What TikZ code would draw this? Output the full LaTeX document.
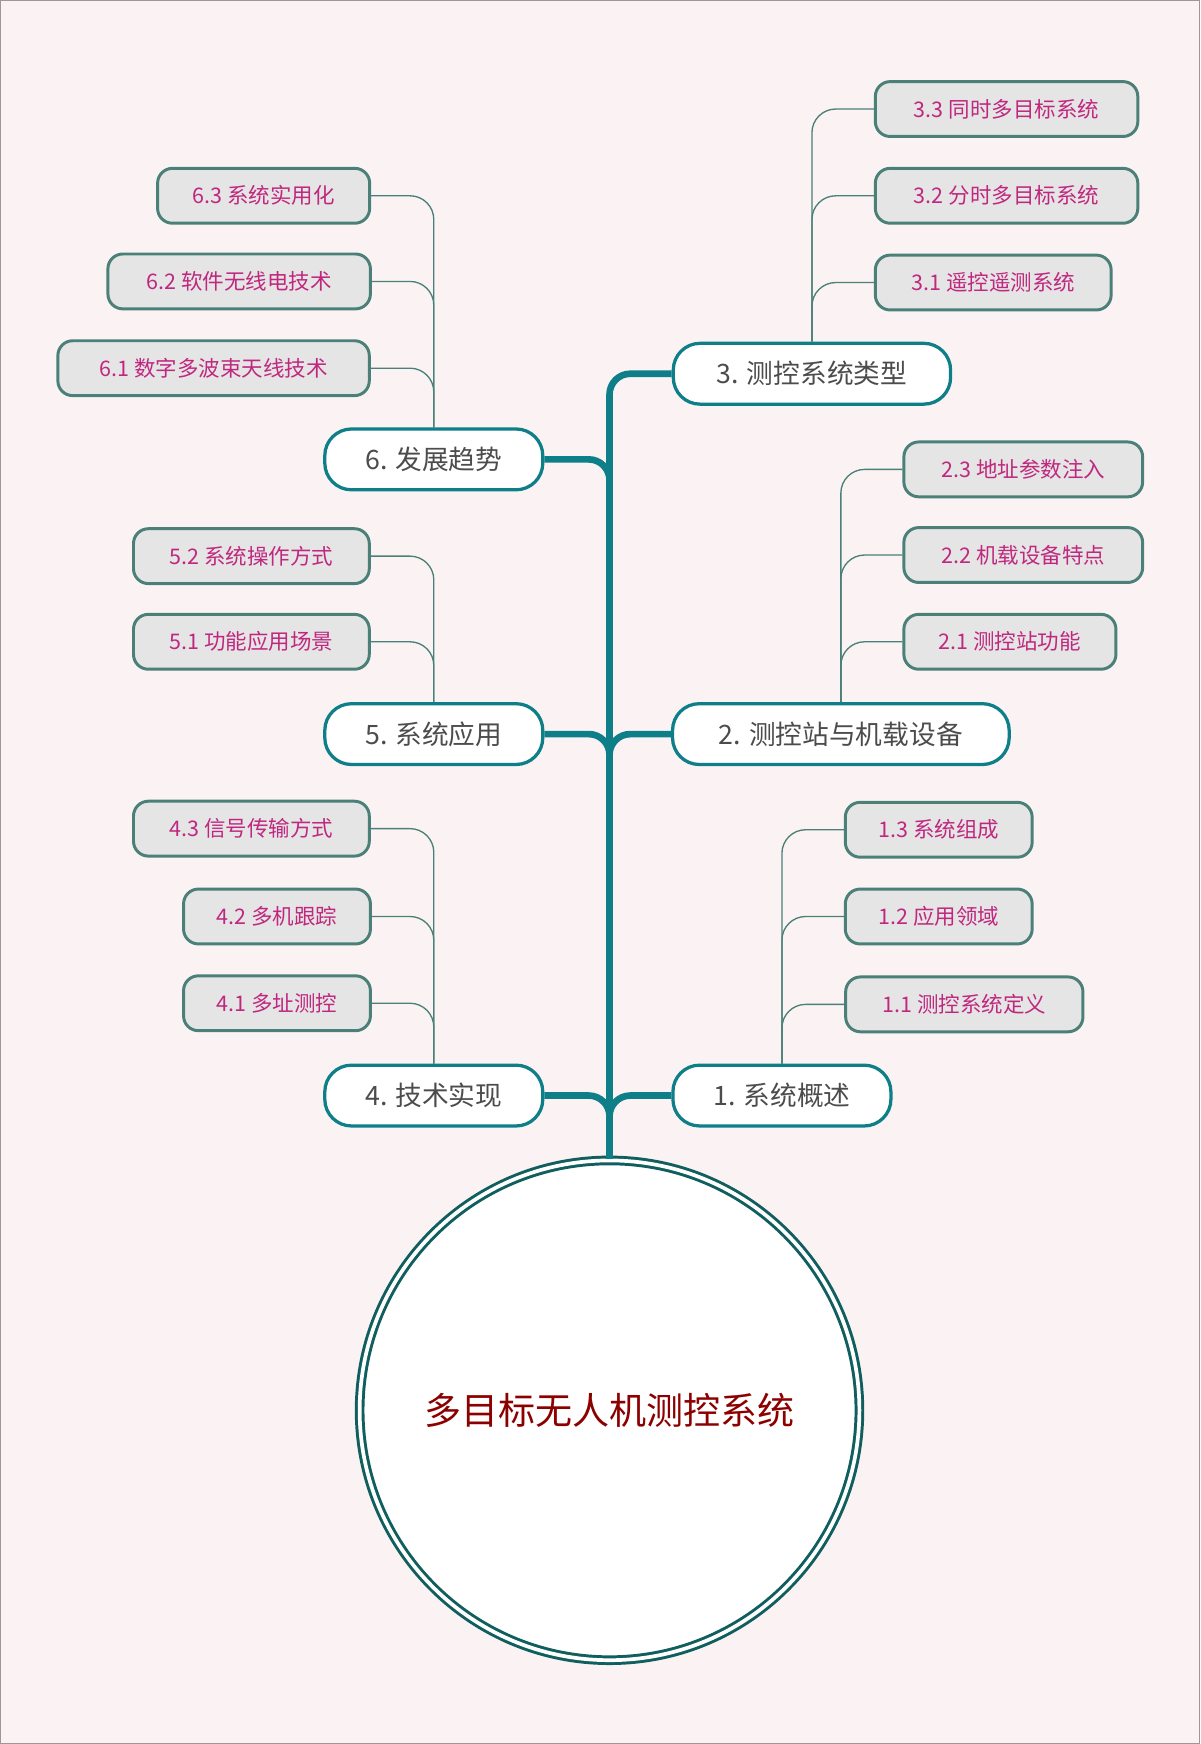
\documentclass[tikz,border=0pt]{standalone}
\usepackage{fontspec}
\setmainfont{Noto Sans CJK SC}
\definecolor{bgc}{HTML}{FBF3F3}
\definecolor{tl}{HTML}{0E7F89}
\definecolor{tb}{HTML}{4A8078}
\definecolor{rootc}{HTML}{115E5E}
\definecolor{mg}{HTML}{C0287F}
\begin{document}
\begin{tikzpicture}[x=0.75pt,y=-0.75pt,
 lone/.style={draw=tl,line width=2.2pt,fill=white,rounded corners=18pt,minimum height=41pt,inner sep=0pt,font=\fontsize{18}{21}\selectfont,text=black!70},
 ltwo/.style={draw=tb,line width=2pt,fill=black!10,rounded corners=10pt,minimum height=37pt,inner sep=0pt,font=\fontsize{14.5}{17}\selectfont,text=mg},
 trunk/.style={draw=tl,line width=4.5pt,rounded corners=14pt},
 twig/.style={draw=tb,line width=0.9pt,rounded corners=16pt}]
\fill[bgc,draw=black!40,line width=0.8pt] (0.5,0.5) rectangle (1078.5,1567.5);
\useasboundingbox (0,0) rectangle (1079,1568);
% root
\node[circle,draw=rootc,double=white,double distance=2.5pt,line width=2pt,fill=white,minimum size=337pt,inner sep=0pt,font=\fontsize{25}{29}\selectfont,text=red!55!black] (root) at (548,1268) {多目标无人机测控系统};
% level 1
\node[lone,minimum width=147pt] (n1) at (703,985) {1. 系统概述};
\node[lone,minimum width=227pt] (n2) at (756,660) {2. 测控站与机载设备};
\node[lone,minimum width=187pt] (n3) at (730,336) {3. 测控系统类型};
\node[lone,minimum width=147pt] (n4) at (390,985) {4. 技术实现};
\node[lone,minimum width=147pt] (n5) at (390,660) {5. 系统应用};
\node[lone,minimum width=147pt] (n6) at (390,413) {6. 发展趋势};
% trunk
\foreach \n in {n1,n2,n3} \draw[trunk] (root.north) |- (\n.west);
\foreach \n in {n4,n5,n6} \draw[trunk] (root.north) |- (\n.east);
% level 2
\node[ltwo,minimum width=126pt] (a13) at (844,746) {1.3 系统组成};
\node[ltwo,minimum width=126pt] (a12) at (844,824) {1.2 应用领域};
\node[ltwo,minimum width=160pt] (a11) at (867,903) {1.1 测控系统定义};
\node[ltwo,minimum width=161pt] (a23) at (920,422) {2.3 地址参数注入};
\node[ltwo,minimum width=161pt] (a22) at (920,499) {2.2 机载设备特点};
\node[ltwo,minimum width=143pt] (a21) at (908,577) {2.1 测控站功能};
\node[ltwo,minimum width=177pt] (a33) at (905,98) {3.3 同时多目标系统};
\node[ltwo,minimum width=177pt] (a32) at (905,176) {3.2 分时多目标系统};
\node[ltwo,minimum width=159pt] (a31) at (893,254) {3.1 遥控遥测系统};
\node[ltwo,minimum width=159pt] (a43) at (226,745) {4.3 信号传输方式};
\node[ltwo,minimum width=126pt] (a42) at (249,824) {4.2 多机跟踪};
\node[ltwo,minimum width=126pt] (a41) at (249,902) {4.1 多址测控};
\node[ltwo,minimum width=159pt] (a52) at (226,500) {5.2 系统操作方式};
\node[ltwo,minimum width=159pt] (a51) at (226,577) {5.1 功能应用场景};
\node[ltwo,minimum width=143pt] (a63) at (237,176) {6.3 系统实用化};
\node[ltwo,minimum width=177pt] (a62) at (215,253) {6.2 软件无线电技术};
\node[ltwo,minimum width=210pt] (a61) at (192,331) {6.1 数字多波束天线技术};
\foreach \p/\c in {n1/a11,n1/a12,n1/a13,n2/a21,n2/a22,n2/a23,n3/a31,n3/a32,n3/a33}
  \draw[twig] (\p.north) |- (\c.west);
\foreach \p/\c in {n4/a41,n4/a42,n4/a43,n5/a51,n5/a52,n6/a61,n6/a62,n6/a63}
  \draw[twig] (\p.north) |- (\c.east);
\end{tikzpicture}
\end{document}
